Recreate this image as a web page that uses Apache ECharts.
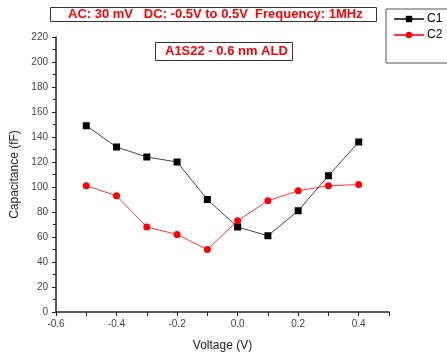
<!DOCTYPE html>
<html>
<head>
<meta charset="utf-8">
<script src="https://cdn.jsdelivr.net/npm/echarts@6/dist/echarts.min.js"></script>
<style>
  html, body { margin: 0; padding: 0; background: #fff; }
  #chart { width: 447px; height: 360px; }
</style>
</head>
<body>
<div id="chart"></div>
<script>
const voltage = [-0.5, -0.4, -0.3, -0.2, -0.1, 0.0, 0.1, 0.2, 0.3, 0.4];
const c1 = [149, 132, 124, 120, 90, 68, 61, 81, 109, 136];
const c2 = [101, 93, 68, 62, 50, 73, 89, 97, 101, 102];

const toPairs = (ys) => voltage.map((v, i) => [v, ys[i]]);

const chart = echarts.init(document.getElementById('chart'));
const font = 'Liberation Sans, Arial, sans-serif';

chart.setOption({
  animation: false,
  textStyle: { fontFamily: font },
  title: [
    {
      text: 'AC: 30 mV   DC: -0.5V to 0.5V  Frequency: 1MHz',
      left: 50,
      top: 7,
      padding: [1, 14, 1, 18],
      borderColor: '#333',
      borderWidth: 1,
      textStyle: { color: '#ff0000', fontSize: 13, fontWeight: 'bold', fontFamily: font },
    },
    {
      text: 'A1S22 - 0.6 nm ALD',
      left: 155,
      top: 42,
      padding: [3, 5, 3, 10],
      borderColor: '#333',
      borderWidth: 1,
      textStyle: { color: '#ff0000', fontSize: 13, fontWeight: 'bold', fontFamily: font },
    },
  ],
  legend: {
    orient: 'vertical',
    left: 386,
    top: 9,
    padding: [4, 20, 22, 7],
    itemGap: 4,
    itemWidth: 30,
    itemHeight: 8,
    borderColor: '#555',
    borderWidth: 1,
    textStyle: { fontSize: 12, color: '#000', fontFamily: font, padding: [0, 0, 0, -2] },
    data: ['C1', 'C2'],
  },
  grid: {
    left: 56,
    right: 58,
    top: 37,
    bottom: 48,
  },
  xAxis: {
    type: 'value',
    min: -0.6,
    max: 0.5,
    interval: 0.2,
    name: 'Voltage (V)',
    nameLocation: 'middle',
    nameGap: 28,
    nameTextStyle: { fontSize: 12, color: '#222', fontFamily: font },
    axisLine: { onZero: false, lineStyle: { color: '#222', width: 1.5 } },
    axisTick: { show: true, length: 4, inside: false, lineStyle: { color: '#222' } },
    minorTick: { show: true, splitNumber: 2, length: 4, lineStyle: { color: '#222' } },
    axisLabel: {
      color: '#444',
      fontSize: 10,
      margin: 7,
      showMaxLabel: false,
      formatter: (v) => v.toFixed(1),
    },
    splitLine: { show: false },
  },
  yAxis: {
    type: 'value',
    min: 0,
    max: 220,
    interval: 20,
    name: 'Capacitance (fF)',
    nameLocation: 'middle',
    nameGap: 35,
    nameTextStyle: { fontSize: 12, color: '#222', fontFamily: font },
    axisLine: { show: true, onZero: false, lineStyle: { color: '#222', width: 1.5 } },
    axisTick: { show: true, length: 4, lineStyle: { color: '#222' } },
    minorTick: { show: true, splitNumber: 2, length: 3, lineStyle: { color: '#222' } },
    axisLabel: { color: '#444', fontSize: 10, margin: 8 },
    splitLine: { show: false },
  },
  series: [
    {
      name: 'C1',
      type: 'line',
      data: toPairs(c1),
      symbol: 'rect',
      symbolSize: 7,
      itemStyle: { color: '#000' },
      lineStyle: { color: '#444', width: 1 },
    },
    {
      name: 'C2',
      type: 'line',
      data: toPairs(c2),
      symbol: 'circle',
      symbolSize: 7,
      itemStyle: { color: '#ff0000' },
      lineStyle: { color: '#ff3333', width: 1 },
    },
  ],
});
</script>
</body>
</html>
